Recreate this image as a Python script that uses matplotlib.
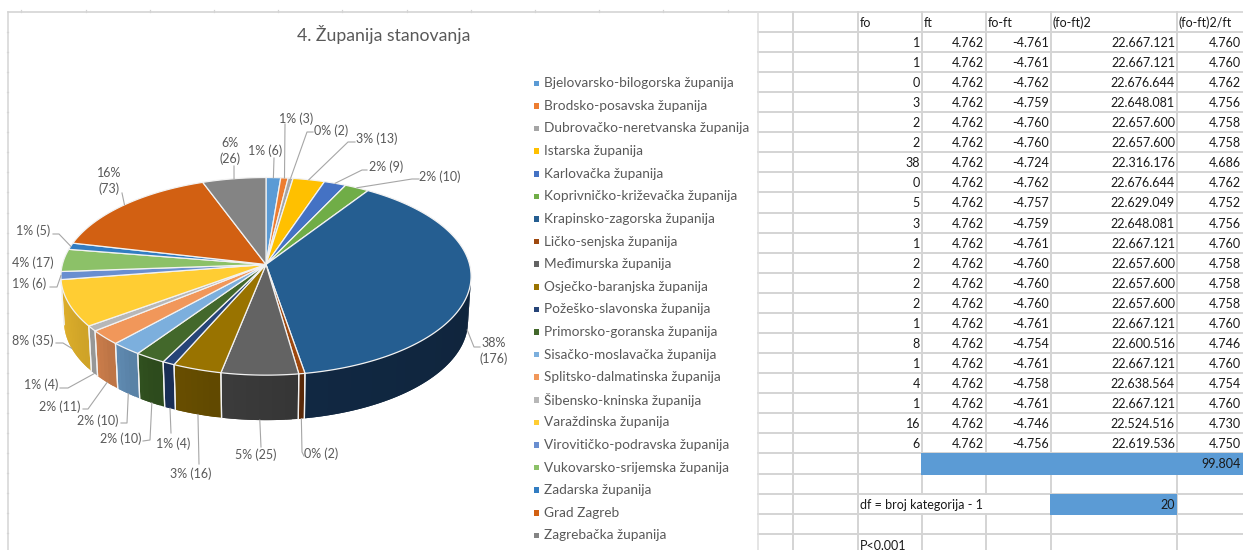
#!/usr/bin/env python3
"""Pie of county of residence next to the chi-square worksheet it came from."""

import matplotlib
matplotlib.use("Agg")
import matplotlib.pyplot as plt
import numpy as np
from matplotlib.patches import Polygon

plt.rcParams['font.family'] = ['Lato', 'DejaVu Sans']

# ---------------------------------------------------------------------------
# Data
# ---------------------------------------------------------------------------

TITLE = "4. Županija stanovanja"

COUNTIES = [
    "Bjelovarsko-bilogorska županija", "Brodsko-posavska županija",
    "Dubrovačko-neretvanska županija", "Istarska županija",
    "Karlovačka županija", "Koprivničko-križevačka županija",
    "Krapinsko-zagorska županija", "Ličko-senjska županija",
    "Međimurska županija", "Osječko-baranjska županija",
    "Požeško-slavonska županija", "Primorsko-goranska županija",
    "Sisačko-moslavačka županija", "Splitsko-dalmatinska županija",
    "Šibensko-kninska županija", "Varaždinska županija",
    "Virovitičko-podravska županija", "Vukovarsko-srijemska županija",
    "Zadarska županija", "Grad Zagreb", "Zagrebačka županija",
]
COUNTS = [6, 3, 2, 13, 9, 10, 176, 2, 25, 16, 4, 10, 10, 11, 4, 35, 6, 17, 5, 73, 26]

TABLE_HEADER = ["fo", "ft", "fo-ft", "(fo-ft)2", "(fo-ft)2/ft"]
FO = ["1", "1", "0", "3", "2", "2", "38", "0", "5", "3", "1", "2", "2", "2",
      "1", "8", "1", "4", "1", "16", "6"]
FT = ["4.762"] * 21
FO_FT = ["-4.761", "-4.761", "-4.762", "-4.759", "-4.760", "-4.760", "-4.724",
         "-4.762", "-4.757", "-4.759", "-4.761", "-4.760", "-4.760", "-4.760",
         "-4.761", "-4.754", "-4.761", "-4.758", "-4.761", "-4.746", "-4.756"]
FO_FT2 = ["22.667.121", "22.667.121", "22.676.644", "22.648.081", "22.657.600",
          "22.657.600", "22.316.176", "22.676.644", "22.629.049", "22.648.081",
          "22.667.121", "22.657.600", "22.657.600", "22.657.600", "22.667.121",
          "22.600.516", "22.667.121", "22.638.564", "22.667.121", "22.524.516",
          "22.619.536"]
CHI = ["4.760", "4.760", "4.762", "4.756", "4.758", "4.758", "4.686", "4.762",
       "4.752", "4.756", "4.760", "4.758", "4.758", "4.758", "4.760", "4.746",
       "4.760", "4.754", "4.760", "4.730", "4.750"]
CHI_TOTAL = "99.804"
DF_TEXT = "df = broj kategorija - 1"
DF_VALUE = "20"
P_TEXT = "P<0,001"

# ---------------------------------------------------------------------------
# Style / layout (pixels of the 1243x550 picture)
# ---------------------------------------------------------------------------

TOP_COLORS = ['#5B9BD5', '#ED7D31', '#A5A5A5', '#FFC000', '#4472C4', '#70AD47',
              '#255E91', '#9E480E', '#636363', '#997300', '#264478', '#43682B',
              '#7CAFDD', '#F1975A', '#B7B7B7', '#FFCD33', '#698ED0', '#8CC168',
              '#327DC2', '#D26012', '#848484']
SIDE_COLORS = {6: '#10263F', 7: '#5C2A08', 8: '#393939', 9: '#654C00', 10: '#1A2F58',
               11: '#2F4E1E', 12: '#5D87AD', 13: '#C67A49', 14: '#9B9B9B', 15: '#D9AB2A',
               16: '#4F6C9E', 17: '#6A9450'}
TEXT_COLOR = '#595959'
CELL_TEXT = '#1a1a1a'
GRID_COLOR = '#D4D4D4'
LEADER_COLOR = '#A6A6A6'
BAND_COLOR = '#5B9BD5'

CX, CY = 266.0, 264.5       # apex of the pie
PIE_A, PIE_B = 97.4, 203.6  # vertical / horizontal scale of the disc
PERSP = 0.1197              # front of the disc is drawn larger
DEPTH = 45.0
BOTTOM_SCALE = 0.985

# label centre and the leader points from the pie out to the label
LABEL_POS = [(265, 151), (296, 119), (331, 131), (377, 139), (386, 167), (440, 177),
             (494, 351), (321, 454), (256, 455), (191, 474), (173, 444), (121, 439),
             (98, 421), (60, 407), (41, 385), (33, 341), (29, 284), (33, 263),
             (33, 231), (109, 181), (230, 151)]
TWO_LINES = {6, 19, 20}
LEADER_PTS = {
    0: [(274, 158)], 1: [(285, 124)], 2: [(307, 132), (313, 132)],
    3: [(348, 142), (355, 142)], 4: [(362, 170), (367, 170)],
    5: [(412, 179), (419, 179)], 6: [(474, 347), (480, 347)],
    7: [(302, 452), (304, 456)], 8: [(261, 447)], 9: [(199, 464)],
    10: [(171, 433)], 11: [(150, 440), (143, 441)], 12: [(127, 423), (121, 423)],
    13: [(88, 409), (83, 409)], 14: [(68, 388), (60, 388)], 15: [(63, 343), (56, 343)],
    16: [(57, 287), (50, 287)], 18: [(59, 234), (53, 234)], 19: [(122, 193)], 20: [(234, 166)],
}

EMPTY_COL_X = 793
COL_X = [858, 922, 986, 1051, 1177, 1243]
ROW_H = 20.05
ROW0 = 12.0


def disc(theta, scale=1.0, dy=0.0):
    """Project angle(s), clockwise from the top in degrees, onto the pie rim."""
    t = np.radians(theta)
    u, v = np.sin(t), -np.cos(t)
    w = 1 - PERSP * v
    return CX + scale * PIE_B * u / w, CY + PIE_A * v / w + dy


def shade(color, factor):
    return tuple(min(1.0, c * factor) for c in matplotlib.colors.to_rgb(color))


def draw_pie(ax):
    total = sum(COUNTS)
    edges = np.concatenate([[0], np.cumsum(COUNTS)]) / total * 360
    front_lo = np.degrees(np.arccos(-PERSP))
    front_hi = 360 - front_lo

    # side wall first, split in small overlapping quads for the soft shading
    for i, (a, b) in enumerate(zip(edges[:-1], edges[1:])):
        lo, hi = max(a, front_lo), min(b, front_hi)
        if hi <= lo:
            continue
        steps = max(2, int((hi - lo) / 1.5))
        th = np.linspace(lo, hi, steps + 1)
        for j in reversed(range(steps)):
            seg = np.linspace(th[j], hi if j == steps - 1 else th[j + 2 if j + 2 <= steps else steps], 6)
            xt, yt = disc(seg)
            xb, yb = disc(seg[::-1], BOTTOM_SCALE, DEPTH)
            f = 0.95 + 0.10 * (j + 0.5) / steps
            col = shade(SIDE_COLORS[i], f)
            pts = list(zip(xt, yt)) + list(zip(xb, yb))
            ax.add_patch(Polygon(pts, closed=True, facecolor=col, edgecolor='none',
                                 linewidth=0, zorder=2))
        for ang in (lo, hi):
            if front_lo < ang < front_hi:
                x0, y0 = disc(ang)
                x1, y1 = disc(ang, BOTTOM_SCALE, DEPTH)
                ax.plot([x0, x1], [y0, y1], color='#F2F2F2', linewidth=0.9, zorder=3)

    # top face
    for i, (a, b) in enumerate(zip(edges[:-1], edges[1:])):
        th = np.linspace(a, b, max(3, int(b - a) + 2))
        x, y = disc(th)
        pts = [(CX, CY)] + list(zip(x, y))
        ax.add_patch(Polygon(pts, closed=True, facecolor=TOP_COLORS[i],
                             edgecolor='#F2F2F2', linewidth=0.9,
                             joinstyle='round', zorder=4))

    # data labels and leaders
    for i, n in enumerate(COUNTS):
        pct = round(n / total * 100)
        sep = "\n" if i in TWO_LINES else " "
        lx, ly = LABEL_POS[i]
        ax.text(lx, ly, f"{pct}%{sep}({n})", ha='center', va='center', fontsize=9,
                color=TEXT_COLOR, linespacing=1.25, zorder=6)
        if i not in LEADER_PTS:
            continue
        mid = (edges[i] + edges[i + 1]) / 2
        if front_lo < mid < front_hi:
            sx, sy = disc(mid, BOTTOM_SCALE, DEPTH)
        else:
            sx, sy = disc(mid)
        pts = [(sx, sy)] + LEADER_PTS[i]
        ax.plot(*zip(*pts), color=LEADER_COLOR, linewidth=0.8, zorder=5)


def draw_legend(ax):
    for i, name in enumerate(COUNTIES):
        y = 83.3 + i * 22.6
        ax.add_patch(Polygon([(534, y - 2.8), (539.5, y - 2.8), (539.5, y + 2.8), (534, y + 2.8)],
                             closed=True, facecolor=TOP_COLORS[i], edgecolor='none', zorder=4))
        ax.text(544.5, y, name, ha='left', va='center', fontsize=9.8, color=TEXT_COLOR)


def draw_sheet(ax):
    # chart frame, with the stubs of the hidden sheet grid
    ax.plot([8.5, 8.5], [12, 550], color=GRID_COLOR, linewidth=1.1)
    ax.plot([8, 1243], [11.8, 11.8], color=GRID_COLOR, linewidth=1.2)
    ax.plot([758.5, 758.5], [12, 550], color='#DEDEDE', linewidth=1.1)
    for x in np.arange(21.5, 740, 64.2):
        ax.plot([x, x], [10, 12], color=GRID_COLOR, linewidth=0.9)
    for k in range(1, 27):
        y = ROW0 + k * ROW_H
        ax.plot([7, 8.5], [y, y], color=GRID_COLOR, linewidth=0.9)

    for k in range(1, 27):
        y = ROW0 + k * ROW_H + (1 if k > 22 else 0)
        ax.plot([758, 1243], [y, y], color=GRID_COLOR, linewidth=1.4, zorder=1)
    for x in [EMPTY_COL_X] + COL_X[:-1]:
        ax.plot([x, x], [12, 550], color=GRID_COLOR, linewidth=1.4, zorder=1)

    # total row, df row (its text runs over two cell borders)
    band_y = ROW0 + 22 * ROW_H
    ax.fill_between([COL_X[1] - 1, 1243], band_y - 0.5, band_y + 21.5,
                    color=BAND_COLOR, linewidth=0, zorder=2)
    df_y = ROW0 + 24 * ROW_H + 1
    ax.fill_between([COL_X[0] + 1, COL_X[3] - 1], df_y + 1, df_y + 19, color='white',
                    linewidth=0, zorder=2)
    ax.fill_between([COL_X[3] - 1, COL_X[4]], df_y - 0.5, df_y + 21,
                    color=BAND_COLOR, linewidth=0, zorder=2)

    columns = [FO, FT, FO_FT, FO_FT2, CHI]
    for c, head in enumerate(TABLE_HEADER):
        ax.text(COL_X[c] + 2, ROW0 + 0.5 * ROW_H + 1, head, ha='left', va='center',
                fontsize=9, color=CELL_TEXT, zorder=3)
        for r, val in enumerate(columns[c]):
            ax.text(COL_X[c + 1] - 2, ROW0 + (r + 1.5) * ROW_H + 1, val, ha='right',
                    va='center', fontsize=9, color=CELL_TEXT, zorder=3)
    ax.text(COL_X[5] - 2, band_y + 11, CHI_TOTAL, ha='right', va='center', fontsize=9,
            color=CELL_TEXT, zorder=3)
    ax.text(COL_X[0] + 2, df_y + 10.5, DF_TEXT, ha='left', va='center', fontsize=9,
            color=CELL_TEXT, zorder=3)
    ax.text(COL_X[4] - 2, df_y + 10.5, DF_VALUE, ha='right', va='center', fontsize=9,
            color=CELL_TEXT, zorder=3)
    ax.text(COL_X[0] + 2, df_y + 51, P_TEXT, ha='left', va='center', fontsize=9,
            color=CELL_TEXT, zorder=3)


def main():
    fig = plt.figure(figsize=(12.43, 5.5), dpi=100)
    ax = fig.add_axes([0, 0, 1, 1])
    ax.set_xlim(0, 1243)
    ax.set_ylim(550, 0)
    ax.axis('off')

    draw_sheet(ax)
    draw_pie(ax)
    draw_legend(ax)
    ax.text(384, 35, TITLE, ha='center', va='center', fontsize=12.7, color=TEXT_COLOR)

    fig.savefig("out.png", dpi=100, facecolor='white')


if __name__ == "__main__":
    main()
